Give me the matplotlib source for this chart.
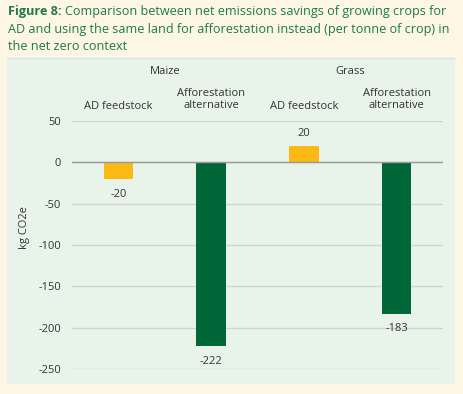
import matplotlib.pyplot as plt
from matplotlib.patches import Rectangle
from matplotlib.lines import Line2D
import matplotlib.transforms as mtransforms

groups = ['Maize', 'Grass']
series = ['AD feedstock', 'Afforestation\nalternative']
values = [-20, -222, 20, -183]
yticks = [50, 0, -50, -100, -150, -200, -250]

yellow = '#fdb913'
green = '#006838'
cols = [yellow, green, yellow, green]

plt.rcParams['font.family'] = ['Open Sans', 'DejaVu Sans']

W, H = 463, 394
fig = plt.figure(figsize=(W / 100, H / 100), dpi=100)
fig.patch.set_facecolor('#fdf6e5')

def px(x0, y0, x1, y1):
    return [x0 / W, 1 - y1 / H, (x1 - x0) / W, (y1 - y0) / H]

# green panel behind chart
fig.patches.append(Rectangle((7 / W, 1 - 384 / H), 448 / W, 325 / H,
                             transform=fig.transFigure, facecolor='#e8f4ea',
                             edgecolor='none', zorder=-5))
fig.lines.append(Line2D([7 / W, 455 / W], [1 - 58 / H] * 2,
                        transform=fig.transFigure, color='#d5e7d8', lw=1, zorder=-4))

# title
tc = '#1e7b45'
tsize = 9.1
t1 = fig.text(8 / W, 1 - 12 / H, 'Figure 8:', fontsize=tsize, fontweight='bold',
              color=tc, va='center')
fig.canvas.draw()
bb = t1.get_window_extent()
fig.text(bb.x1 / W + 3 / W, 1 - 12 / H,
         'Comparison between net emissions savings of growing crops for',
         fontsize=tsize, color=tc, va='center')
fig.text(8 / W, 1 - 29 / H,
         'AD and using the same land for afforestation instead (per tonne of crop) in',
         fontsize=tsize, color=tc, va='center')
fig.text(8 / W, 1 - 46 / H, 'the net zero context', fontsize=tsize, color=tc, va='center')

fs = 8
lc = '#333333'

ax = fig.add_axes(px(72, 121, 443, 369))
ax.set_zorder(2)
ax.set_facecolor('none')
xs = list(range(len(values)))
bars = ax.bar(xs, values, width=0.32, color=cols, zorder=3)
ax.set_xlim(-0.5, 3.5)
ax.set_ylim(-250, 50)
ax.set_yticks(yticks)
ax.set_yticklabels([str(v) for v in yticks])
ax.tick_params(axis='y', length=0, pad=8, labelsize=fs, labelcolor=lc)
ax.set_xticks([])
for s in ax.spines.values():
    s.set_visible(False)
ax.grid(axis='y', color='#d0d5d1', lw=1, zorder=0)
ax.axhline(0, color='#9a9a9a', lw=1, zorder=4)

for x, v in zip(xs, values):
    off = 9 if v > 0 else -11
    ax.annotate(str(v), (x, v), xytext=(0, off), textcoords='offset points',
                ha='center', va='center', fontsize=fs, color=lc)

trans = mtransforms.blended_transform_factory(ax.transData, ax.transAxes)
for i, g in enumerate(groups):
    ax.text(2 * i + 0.5, 1.2, g, transform=trans, ha='center', va='center',
            fontsize=fs, color=lc)
    for j, s in enumerate(series):
        yy = 1.06 if j == 0 else 1.087
        ax.text(2 * i + j, yy, s, transform=trans, ha='center', va='center',
                fontsize=fs, color=lc, linespacing=1.05)

fig.text(25 / W, 1 - 228 / H, 'kg CO2e', rotation=90, ha='center', va='center',
         fontsize=fs, color=lc)

fig.savefig('out.png', dpi=100, facecolor=fig.get_facecolor())
